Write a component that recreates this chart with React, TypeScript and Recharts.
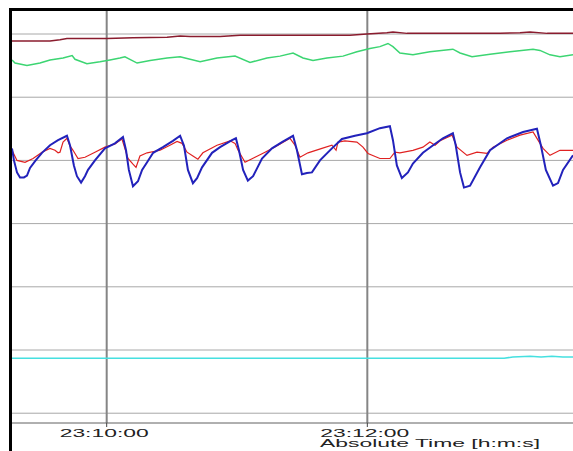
import React from 'react';
import { LineChart, Line, XAxis, YAxis, CartesianGrid, ReferenceLine } from 'recharts';

// Time axis: seconds relative to 23:10:00
const timeTicks = [0, 120];
const timeLabels = ['23:10:00', '23:12:00'];
const timeDomain: [number, number] = [-43.6, 214.7];

// Value axis: grid every 100 units
const gridValues = [0, 100, 200, 300, 400, 500, 600];
const valueDomain: [number, number] = [-15.5, 636.4];

// Each trace as [seconds, value]
const traceMaroon: [number, number][] = [
  [-43.6, 589], [-26.1, 589], [-21.5, 591], [-18.3, 593], [0.1, 593], [12.1, 594],
  [27.8, 595], [33.8, 597], [38.4, 596], [52.2, 596], [61.4, 598], [84.4, 598],
  [112, 598], [119.8, 600], [129, 602], [131.8, 603], [138.3, 601], [181.1, 601],
  [190.3, 602], [194.9, 603], [202.8, 601], [214.7, 601],
];

const traceGreen: [number, number][] = [
  [-43.6, 559], [-42.2, 554], [-36.7, 550], [-30.7, 554], [-26.1, 559], [-20.1, 562],
  [-15.9, 566], [-14.6, 560], [-9.1, 553], [-3.1, 556], [1.5, 559], [6.1, 562],
  [8.4, 564], [14, 554], [20, 558], [27.8, 562], [33.8, 564], [43, 556],
  [50.8, 562], [59.1, 565], [66, 555], [73.8, 562], [79.8, 565], [85.8, 570],
  [90.4, 562], [95, 558], [101.4, 562], [108.8, 565], [115.2, 572], [121.2, 577],
  [125.8, 580], [129.5, 585], [131.8, 580], [135, 570], [141, 567], [148.8, 572],
  [159.4, 576], [162.7, 570], [168.2, 564], [176.5, 568], [185.7, 572], [196.3, 576],
  [199.5, 574], [204.1, 567], [208.7, 564], [214.7, 567],
];

const traceBlue: [number, number][] = [
  [-43.6, 419], [-42.7, 400], [-41.3, 381], [-39.9, 373], [-38.1, 373], [-36.7, 376],
  [-35.3, 388], [-32.7, 400], [-29.8, 412], [-26.1, 424], [-22.4, 432], [-18.3, 439],
  [-16.9, 424], [-15.1, 392], [-13.7, 375], [-11.8, 365], [-10, 375], [-8.6, 385],
  [-5.4, 400], [-0.8, 419], [3.8, 427], [7.5, 437], [8.9, 416], [10.2, 385],
  [12.1, 359], [14.4, 367], [16.3, 385], [18.6, 397], [21.4, 412], [25.9, 421],
  [30.5, 431], [33.8, 439], [35.6, 423], [37.4, 385], [39.7, 364], [41.6, 372],
  [43.9, 389], [48.5, 412], [52.2, 421], [57.7, 432], [59.5, 435], [60.9, 416],
  [62.8, 385], [65, 368], [67.4, 375], [71.5, 403], [76.1, 419], [80.7, 429],
  [85.8, 439], [87.6, 416], [89.9, 378], [92.2, 380], [94.5, 381], [98.2, 400],
  [103.7, 419], [108.3, 434], [114.3, 439], [119.8, 443], [125.8, 451], [130.4, 454],
  [131.8, 432], [133.6, 392], [135.9, 372], [138.7, 381], [141, 395], [145.6, 412],
  [150.3, 424], [154.8, 435], [159.4, 443], [160.7, 424], [162.7, 381], [164.5, 357],
  [167.3, 360], [171.9, 389], [176.5, 416], [184.3, 435], [191.7, 445], [198.1, 450],
  [199.9, 424], [202.2, 385], [205.5, 360], [207.8, 364], [210.1, 385], [214.7, 408],
];

const traceRed: [number, number][] = [
  [-43.6, 416], [-41.3, 400], [-37.6, 397], [-33.9, 403], [-29.8, 413], [-26.1, 419],
  [-23.8, 416], [-22.4, 412], [-21.5, 413], [-20.1, 429], [-18.3, 435], [-16.9, 423],
  [-15.5, 416], [-13.2, 403], [-10, 405], [-5.4, 413], [-0.8, 421], [3.8, 426],
  [7, 434], [8, 423], [9.8, 403], [12.1, 394], [13.5, 389], [15.3, 407],
  [18.6, 412], [24.6, 416], [29.1, 424], [32.4, 430], [34.7, 427], [37, 413],
  [39.7, 407], [42, 402], [44.3, 412], [50.8, 424], [56.8, 431], [59.1, 427],
  [60.5, 416], [63.7, 397], [68.3, 405], [72.9, 413], [78.9, 424], [84.4, 435],
  [86.7, 424], [89, 405], [92.7, 412], [99.1, 419], [103.7, 424], [105.6, 416],
  [106.5, 429], [109.7, 431], [115.2, 429], [118, 421], [120.3, 411], [125.8, 403],
  [130.4, 403], [132.7, 413], [135, 412], [141, 416], [145.6, 421], [148.8, 429],
  [151.2, 424], [153.5, 431], [159, 440], [161.3, 421], [165.9, 408], [170.5, 413],
  [175.1, 411], [177.9, 421], [184.3, 432], [190.3, 440], [196.3, 445], [198.6, 432],
  [200.9, 419], [204.1, 408], [208.7, 416], [214.7, 416],
];

const traceCyan: [number, number][] = [
  [-43.6, 87], [60, 87], [120, 87], [183, 87], [187, 89], [195, 90],
  [200, 89], [205, 90], [210, 89], [214.7, 89],
];

const toPoints = (trace: [number, number][]) => trace.map(([t, v]) => ({ t, v }));

const FONT = '"Liberation Sans", Arial, sans-serif';

const TimeTick = (props: any) => {
  const { x, y, payload } = props;
  const idx = timeTicks.indexOf(payload.value);
  const label = idx >= 0 ? timeLabels[idx] : '';
  return (
    <text
      x={x - 2.5}
      y={y + 7.5}
      textAnchor="middle"
      fontFamily={FONT}
      fontSize={11}
      fill="#222"
      textLength={89}
      lengthAdjust="spacingAndGlyphs"
    >
      {label}
    </text>
  );
};

const AxisTitle = (props: any) => {
  const vb = props.viewBox || { x: 0, y: 412 };
  return (
    <text
      x={vb.x + 308}
      y={vb.y + 24}
      textAnchor="start"
      fontFamily={FONT}
      fontSize={11}
      fill="#222"
      textLength={220}
      lengthAdjust="spacingAndGlyphs"
    >
      Absolute Time [h:m:s]
    </text>
  );
};

export default function App() {
  return (
    <div style={{ position: 'absolute', left: 0, top: 0, width: 573, height: 451, background: '#fff', overflow: 'hidden' }}>
      <div
        style={{
          position: 'absolute',
          left: 9,
          top: 8,
          width: 564,
          height: 443,
          borderTop: '3px solid #000',
          borderLeft: '3px solid #000',
          boxSizing: 'border-box',
        }}
      />
      <div style={{ position: 'absolute', left: 12, top: 11 }}>
        <LineChart width={561} height={440} margin={{ top: 0, right: 0, left: 0, bottom: 0 }}>
          <CartesianGrid vertical={false} stroke="#a8a8a8" horizontalValues={gridValues} />
          <XAxis
            type="number"
            dataKey="t"
            domain={timeDomain}
            ticks={timeTicks}
            allowDataOverflow
            height={28}
            axisLine={{ stroke: '#606060' }}
            tickLine={{ stroke: '#404040' }}
            tickSize={4}
            tick={<TimeTick />}
            label={{ content: <AxisTitle /> }}
          />
          <YAxis type="number" hide domain={valueDomain} ticks={gridValues} allowDataOverflow />
          {timeTicks.map((t) => (
            <ReferenceLine key={t} x={t} stroke="#858585" strokeWidth={2} />
          ))}
          <Line data={toPoints(traceCyan)} dataKey="v" type="linear" stroke="#45e0e0" strokeWidth={1.5} dot={false} isAnimationActive={false} />
          <Line data={toPoints(traceMaroon)} dataKey="v" type="linear" stroke="#8a1c2e" strokeWidth={1.5} dot={false} isAnimationActive={false} />
          <Line data={toPoints(traceGreen)} dataKey="v" type="linear" stroke="#3cd572" strokeWidth={1.5} dot={false} isAnimationActive={false} />
          <Line data={toPoints(traceRed)} dataKey="v" type="linear" stroke="#e02222" strokeWidth={1.2} dot={false} isAnimationActive={false} />
          <Line data={toPoints(traceBlue)} dataKey="v" type="linear" stroke="#2222bb" strokeWidth={2} dot={false} isAnimationActive={false} />
        </LineChart>
      </div>
    </div>
  );
}
